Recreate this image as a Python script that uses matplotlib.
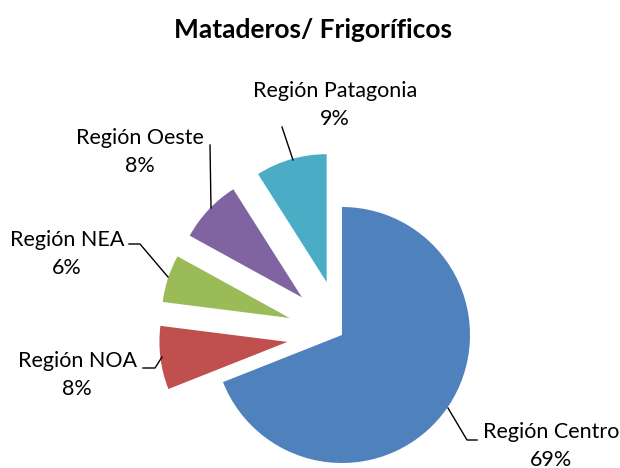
import matplotlib.pyplot as plt

plt.rcParams["font.family"] = ["Lato", "DejaVu Sans"]

regions = ["Región Centro", "Región NOA", "Región NEA", "Región Oeste", "Región Patagonia"]
shares = [69, 8, 6, 8, 9]
colors = ["#4F81BD", "#C0504D", "#9BBB59", "#8064A2", "#4BACC6"]

H = 468
R = 128
# pie explode offset is in data units (pixels here)
explode = [0, 55, 55, 55, 55]
# label centres and leader lines, in pixel coords (y down)
label_pos = [(551, 446), (77, 375), (67, 254), (140, 152), (335, 105)]
leaders = [
    [(448, 408), (467, 440), (477, 440)],
    [(143, 368), (155, 368), (162, 357)],
    [(129, 244), (140, 244), (168, 277)],
    [(210, 145), (211, 208)],
    [(282, 127), (293, 160)],
]

fig = plt.figure(figsize=(6.2, 4.68), dpi=100)
ax = fig.add_axes([0, 0, 1, 1])
ax.pie(shares, colors=colors, startangle=90, counterclock=False,
       explode=explode, radius=R, center=(342, H - 335),
       wedgeprops=dict(linewidth=0))
ax.set_xlim(0, 620)
ax.set_ylim(0, H)
ax.set_aspect("equal")
ax.axis("off")

for name, pct, (x, y), pts in zip(regions, shares, label_pos, leaders):
    ax.text(x, H - y, f"{name}\n{pct}%", ha="center", va="center",
            fontsize=15.5, linespacing=1.5, color="black")
    ax.plot([p[0] for p in pts], [H - p[1] for p in pts], color="black", lw=1)

fig.text(313 / 620, 1 - 30 / H, "Mataderos/ Frigoríficos", ha="center", va="center",
         fontsize=19, fontweight="bold")

fig.savefig("out.png", dpi=100)
